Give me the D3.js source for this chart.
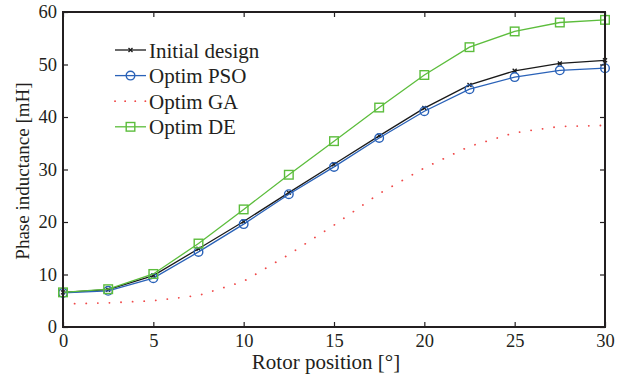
<!DOCTYPE html>
<html>
<head>
<meta charset="utf-8">
<script src="https://d3js.org/d3.v7.min.js"></script>
<style>
  body { margin: 0; background: #fff; }
  text { font-family: "Liberation Serif", "DejaVu Serif", serif; fill: #231f20; }
</style>
</head>
<body>
<svg id="vis"></svg>
<script>
  // Rotor position [deg]
  var positions = [0, 2.5, 5, 7.5, 10, 12.5, 15, 17.5, 20, 22.5, 25, 27.5, 30]
  var initialDesign = [6.6, 7.1, 9.8, 14.9, 20.1, 25.6, 31.0, 36.4, 41.7, 46.1, 48.8, 50.2, 50.8]
  var optimPSO = [6.5, 6.9, 9.3, 14.3, 19.6, 25.3, 30.5, 36.0, 41.1, 45.3, 47.6, 48.9, 49.3]
  var optimGA = [4.4, 4.6, 5.0, 6.0, 8.7, 13.8, 19.4, 25.4, 30.3, 34.4, 37.0, 38.2, 38.4]
  var optimDE = [6.6, 7.2, 10.1, 15.9, 22.4, 29.0, 35.4, 41.8, 48.0, 53.3, 56.3, 58.0, 58.5]
  var xTicks = [0, 5, 10, 15, 20, 25, 30]
  var yTicks = [0, 10, 20, 30, 40, 50, 60]
  var seriesNames = ['Initial design', 'Optim PSO', 'Optim GA', 'Optim DE']

  var width = 623, height = 381
  var plotLeft = 63, plotRight = 605, plotTop = 12, plotBottom = 327

  var svg = d3.select('#vis')
      .attr('width', width)
      .attr('height', height)

  var x = d3.scaleLinear().domain([0, 30]).range([plotLeft, plotRight])
  var y = d3.scaleLinear().domain([0, 60]).range([plotBottom, plotTop])

  var series = [
    {name: seriesNames[0], values: initialDesign, color: '#1a1a1a', marker: 'x', dash: null},
    {name: seriesNames[1], values: optimPSO, color: '#2a62b8', marker: 'circle', dash: null},
    {name: seriesNames[2], values: optimGA, color: '#f04848', marker: 'none', dash: '0.1,11.5'},
    {name: seriesNames[3], values: optimDE, color: '#5cbd3c', marker: 'square', dash: null}
  ]

  var line = d3.line()
      .x(function (d) { return x(d[0]) })
      .y(function (d) { return y(d[1]) })

  function drawMarker(g, kind, cx, cy, color) {
    if (kind == 'circle') {
      g.append('circle').attr('cx', cx).attr('cy', cy).attr('r', 4.3)
        .attr('fill', 'none').attr('stroke', color).attr('stroke-width', 1.4)
    } else if (kind == 'square') {
      g.append('rect').attr('x', cx - 4.3).attr('y', cy - 4.3)
        .attr('width', 8.6).attr('height', 8.6)
        .attr('fill', 'none').attr('stroke', color).attr('stroke-width', 1.4)
    } else if (kind == 'x') {
      g.append('path')
        .attr('d', 'M' + (cx - 2) + ',' + (cy - 2) + 'L' + (cx + 2) + ',' + (cy + 2) +
                   'M' + (cx - 2) + ',' + (cy + 2) + 'L' + (cx + 2) + ',' + (cy - 2))
        .attr('stroke', color).attr('stroke-width', 1.3)
    }
  }

  // Series lines (GA drawn first, underneath)
  var drawOrder = [2, 0, 1, 3]
  drawOrder.forEach(function (i) {
    var s = series[i]
    var pts = positions.map(function (p, k) { return [p, s.values[k]] })
    var g = svg.append('g')
    g.append('path')
      .datum(pts)
      .attr('d', line)
      .attr('fill', 'none')
      .attr('stroke', s.color)
      .attr('stroke-width', i == 2 ? 1.8 : 1.3)
      .attr('stroke-dasharray', s.dash)
      .attr('stroke-linecap', i == 2 ? 'round' : 'butt')
    pts.forEach(function (d) {
      drawMarker(g, s.marker, x(d[0]), y(d[1]), s.color)
    })
  })

  // Axes box with inward ticks
  var tickLen = 5
  var axisColor = '#231f20'
  var tickFont = 18.5

  svg.append('g')
    .attr('transform', 'translate(0,' + plotBottom + ')')
    .call(d3.axisBottom(x).tickValues(xTicks).tickSizeInner(-tickLen).tickSizeOuter(0).tickPadding(7))
    .call(function (g) {
      g.select('.domain').remove()
      g.selectAll('line').attr('stroke', axisColor).attr('stroke-width', 1.2)
      g.selectAll('text').attr('font-size', tickFont).attr('font-family', '"Liberation Serif", serif').attr('fill', axisColor)
    })
  svg.append('g')
    .attr('transform', 'translate(0,' + plotTop + ')')
    .call(d3.axisTop(x).tickValues(xTicks).tickSizeInner(-tickLen).tickSizeOuter(0).tickFormat(''))
    .call(function (g) {
      g.select('.domain').remove()
      g.selectAll('line').attr('stroke', axisColor).attr('stroke-width', 1.2)
    })
  svg.append('g')
    .attr('transform', 'translate(' + plotLeft + ',0)')
    .call(d3.axisLeft(y).tickValues(yTicks).tickSizeInner(-tickLen).tickSizeOuter(0).tickPadding(6))
    .call(function (g) {
      g.select('.domain').remove()
      g.selectAll('line').attr('stroke', axisColor).attr('stroke-width', 1.2)
      g.selectAll('text').attr('font-size', tickFont).attr('font-family', '"Liberation Serif", serif').attr('fill', axisColor)
    })
  svg.append('g')
    .attr('transform', 'translate(' + plotRight + ',0)')
    .call(d3.axisRight(y).tickValues(yTicks).tickSizeInner(-tickLen).tickSizeOuter(0).tickFormat(''))
    .call(function (g) {
      g.select('.domain').remove()
      g.selectAll('line').attr('stroke', axisColor).attr('stroke-width', 1.2)
    })

  // Frame
  svg.append('rect')
    .attr('x', plotLeft).attr('y', plotTop)
    .attr('width', plotRight - plotLeft).attr('height', plotBottom - plotTop)
    .attr('fill', 'none')
    .attr('stroke', axisColor)
    .attr('stroke-width', 2)

  // Axis titles
  svg.append('text')
    .attr('x', 326)
    .attr('y', 369)
    .attr('text-anchor', 'middle')
    .attr('font-size', 21)
    .text('Rotor position [°]')
  svg.append('text')
    .attr('transform', 'translate(29,171) rotate(-90)')
    .attr('text-anchor', 'middle')
    .attr('font-size', 19)
    .text('Phase inductance [mH]')

  // Legend
  var legend = svg.append('g')
  series.forEach(function (s, i) {
    var ly = 50 + i * 25.6
    legend.append('line')
      .attr('x1', 115).attr('x2', 146)
      .attr('y1', ly).attr('y2', ly)
      .attr('stroke', s.color)
      .attr('stroke-width', i == 2 ? 1.8 : 1.3)
      .attr('stroke-dasharray', i == 2 ? '0.1,10' : s.dash)
      .attr('stroke-linecap', i == 2 ? 'round' : 'butt')
    drawMarker(legend, s.marker, 130.5, ly, s.color)
    legend.append('text')
      .attr('x', 149)
      .attr('y', ly + 7.5)
      .attr('font-size', 21)
      .text(s.name)
  })
</script>
</body>
</html>
